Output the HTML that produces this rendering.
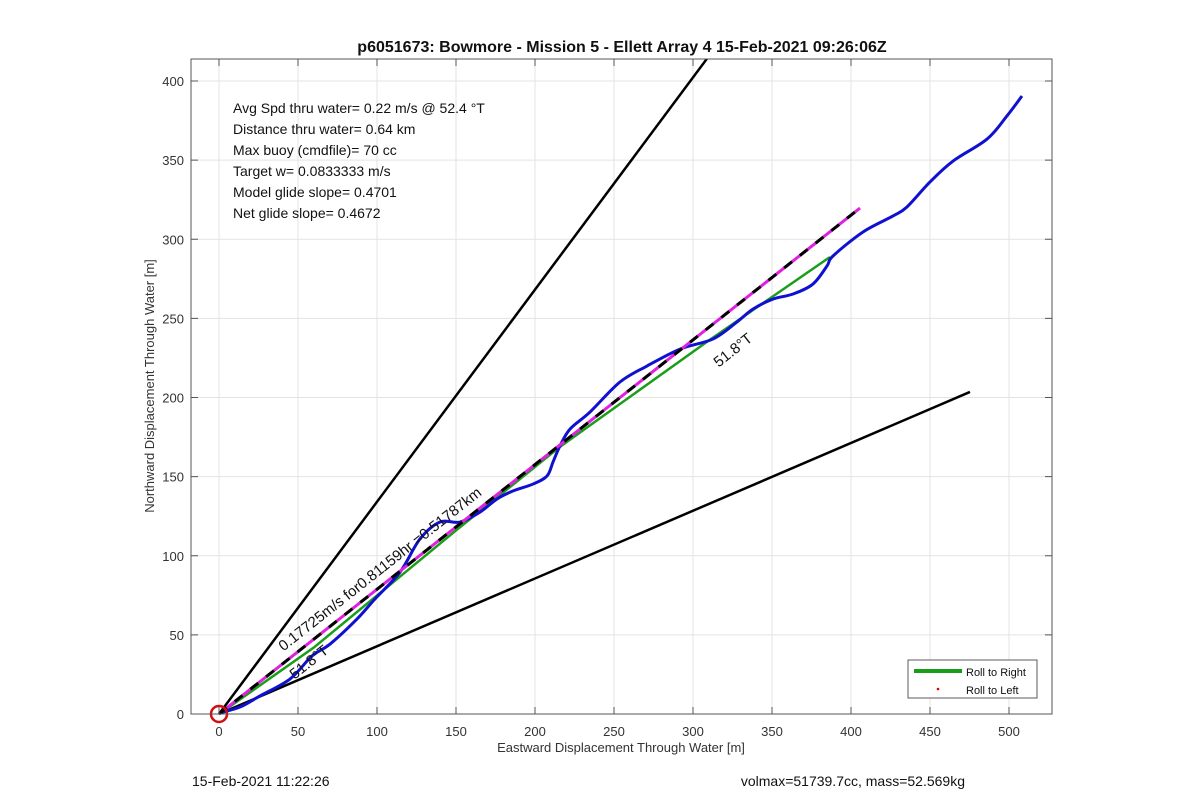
<!DOCTYPE html>
<html><head><meta charset="utf-8"><style>
body{margin:0;background:#fff;}
svg{display:block;font-family:"Liberation Sans",Arial,sans-serif;}
</style></head><body>
<svg id="chart" width="1200" height="804" viewBox="0 0 1200 804" xmlns="http://www.w3.org/2000/svg">
<rect width="1200" height="804" fill="#fff"/>
<g id="grid"></g>
<g id="plot"></g>
<rect x="191" y="59" width="861" height="655" fill="none" stroke="#555" stroke-width="1"/>
<g id="ticks"></g>
<text x="622" y="52" text-anchor="middle" font-size="16" font-weight="bold" fill="#111">p6051673: Bowmore - Mission 5 - Ellett Array 4 15-Feb-2021 09:26:06Z</text>
<text x="621" y="752" text-anchor="middle" font-size="13" fill="#333">Eastward Displacement Through Water [m]</text>
<text transform="translate(154,386) rotate(-90)" text-anchor="middle" font-size="13" fill="#333">Northward Displacement Through Water [m]</text>
<g font-size="14" fill="#111" style="white-space:pre">
<text x="233" y="113">Avg Spd thru water=  0.22 m/s @  52.4 °T</text>
<text x="233" y="134">Distance thru water=  0.64 km</text>
<text x="233" y="155">Max buoy (cmdfile)= 70 cc</text>
<text x="233" y="176">Target w= 0.0833333 m/s</text>
<text x="233" y="197">Model glide slope= 0.4701</text>
<text x="233" y="218">Net glide slope= 0.4672</text>
</g>
<text transform="translate(383,573) rotate(-38.3)" text-anchor="middle" font-size="15" fill="#111">0.17725m/s for0.81159hr =0.51787km</text>
<text transform="translate(736,354) rotate(-38.3)" text-anchor="middle" font-size="15" fill="#111">51.8°T</text>
<text transform="translate(312,666) rotate(-38.3)" text-anchor="middle" font-size="15" fill="#111">51.8°T</text>
<g>
<rect x="908" y="660" width="129" height="38" fill="#fff" stroke="#333" stroke-width="0.8"/>
<line x1="914" y1="671" x2="962" y2="671" stroke="#1a9e1a" stroke-width="4"/>
<text x="966" y="676" font-size="11" fill="#111">Roll to Right</text>
<circle cx="938" cy="689" r="1.3" fill="#d00"/>
<text x="966" y="694" font-size="11" fill="#111">Roll to Left</text>
</g>
<text x="192" y="786" font-size="14" fill="#111">15-Feb-2021 11:22:26</text>
<text x="965" y="786" text-anchor="end" font-size="14" fill="#111">volmax=51739.7cc, mass=52.569kg</text>
</svg>
<script>
const xTicks=[0,50,100,150,200,250,300,350,400,450,500];
const yTicks=[0,50,100,150,200,250,300,350,400];
const blueX=[0,13.3,25.9,44.9,58.9,70.3,87.3,98.7,114.6,127.2,139.9,152.5,165.2,176,186,198.7,207.6,211.4,215.8,222.2,234.8,253.8,270.9,291.8,312.7,327.8,338,350.6,363.3,375.9,384.8,388.6,407.6,426.6,435.4,450,464.6,486.1,498.7,508.2];
const blueY=[0.6,4.4,11.4,22.1,36.7,44.2,60,72.7,89.7,110.6,121.3,121.3,127.6,135.9,140.9,145.3,150.4,159.2,169.4,180.1,190.8,209.8,219.9,230.6,237,247.7,255.9,262.2,265.4,271.7,283.1,289.4,304.6,314.7,320.4,336.2,349.4,363.3,377.9,390.5];
const greenX=[3,60,150,216,310,386.7];
const greenY=[2,42,116,169,236,288.8];
const trackEnd=[405.7,319.7];
const upperBound=[309.5,415];
const lowerBound=[475.3,203.5];
const sx=v=>219+v*1.58;
const sy=v=>714-v*1.5825;
const NS='http://www.w3.org/2000/svg';
function mk(parent,tag,attrs){const e=document.createElementNS(NS,tag);for(const k in attrs)e.setAttribute(k,attrs[k]);document.getElementById(parent).appendChild(e);return e;}
function smooth(xs,ys){
  const p=xs.map((x,i)=>[sx(x),sy(ys[i])]);
  let d='M'+p[0][0]+','+p[0][1];
  for(let i=0;i<p.length-1;i++){
    const p0=p[Math.max(0,i-1)],p1=p[i],p2=p[i+1],p3=p[Math.min(p.length-1,i+2)];
    const c1=[p1[0]+(p2[0]-p0[0])/6,p1[1]+(p2[1]-p0[1])/6];
    const c2=[p2[0]-(p3[0]-p1[0])/6,p2[1]-(p3[1]-p1[1])/6];
    d+=' C'+c1[0]+','+c1[1]+' '+c2[0]+','+c2[1]+' '+p2[0]+','+p2[1];
  }
  return d;
}
xTicks.forEach(t=>{
  const g=mk('grid','line',{x1:sx(t),y1:59,x2:sx(t),y2:714,stroke:'#e3e3e3','stroke-width':1});
  
  
  const tk=mk('ticks','line',{x1:sx(t),y1:714,x2:sx(t),y2:707,stroke:'#555'});
  
  
  const tk2=mk('ticks','line',{x1:sx(t),y1:59,x2:sx(t),y2:66,stroke:'#555'});
  
  
  const l=mk('ticks','text',{x:sx(t),y:736,'text-anchor':'middle','font-size':13,fill:'#333'});
  l.textContent=t;
  
  
});
yTicks.forEach(t=>{
  const g=mk('grid','line',{x1:191,y1:sy(t),x2:1052,y2:sy(t),stroke:'#e3e3e3','stroke-width':1});
  
  
  const tk=mk('ticks','line',{x1:191,y1:sy(t),x2:198,y2:sy(t),stroke:'#555'});
  
  
  const tk2=mk('ticks','line',{x1:1052,y1:sy(t),x2:1045,y2:sy(t),stroke:'#555'});
  
  
  const l=mk('ticks','text',{x:184,y:sy(t)+5,'text-anchor':'end','font-size':13,fill:'#333'});
  l.textContent=t;
  
  
});
const defs=mk('plot','clipPath',{id:'clip'});
const cr=document.createElementNS(NS,'rect');
cr.setAttribute('x',191);cr.setAttribute('y',59);cr.setAttribute('width',861);cr.setAttribute('height',655);
defs.appendChild(cr);
const u=mk('plot','line',{x1:sx(0),y1:sy(0),x2:sx(upperBound[0]),y2:sy(upperBound[1]),stroke:'#000','stroke-width':2.5,'clip-path':'url(#clip)'});


const lo=mk('plot','line',{x1:sx(0),y1:sy(0),x2:sx(lowerBound[0]),y2:sy(lowerBound[1]),stroke:'#000','stroke-width':2.5});


const gp=mk('plot','polyline',{points:greenX.map((x,i)=>sx(x)+','+sy(greenY[i])).join(' '),fill:'none',stroke:'#1a9e1a','stroke-width':2.5});


const bp=mk('plot','path',{d:smooth(blueX,blueY),fill:'none',stroke:'#1010d0','stroke-width':3,'stroke-linejoin':'round'});


const m1=mk('plot','line',{x1:sx(0),y1:sy(0),x2:sx(trackEnd[0]),y2:sy(trackEnd[1]),stroke:'#e020e0','stroke-width':3});


const m2=mk('plot','line',{x1:sx(0),y1:sy(0),x2:sx(trackEnd[0]),y2:sy(trackEnd[1]),stroke:'#000','stroke-width':3,'stroke-dasharray':'10 10'});


const c=mk('plot','circle',{cx:sx(0),cy:sy(0),r:8,fill:'none',stroke:'#d01010','stroke-width':2.5});


</script>
</body></html>
